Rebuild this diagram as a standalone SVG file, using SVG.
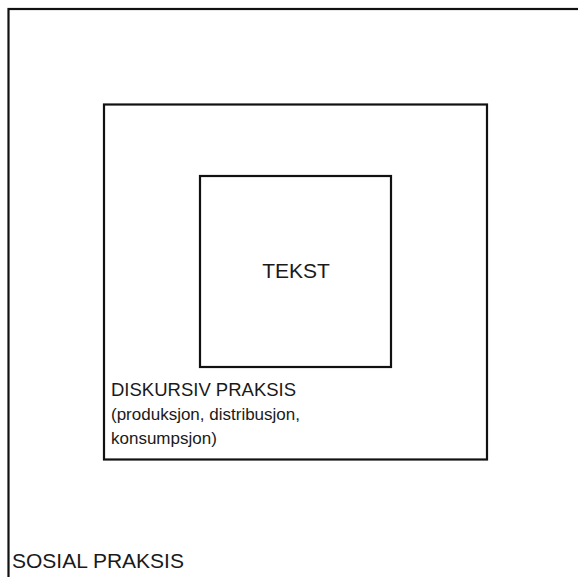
<svg xmlns="http://www.w3.org/2000/svg" width="578" height="577" viewBox="0 0 578 577">
<style>
.box{fill:none;stroke:#111;stroke-width:2.2}
.t{font-family:"Liberation Sans",Arial,sans-serif;fill:#1a1a1a}
.big{font-size:21px}
.mid{font-size:18.5px}
.sm{font-size:17px}
</style>
<rect width="578" height="577" fill="#fff"/>
<g id="sosial">
<rect class="box" x="8.5" y="9" width="575" height="580"/>
<text class="t big" x="12" y="568">SOSIAL PRAKSIS</text>
</g>
<g id="diskursiv">
<rect class="box" x="104" y="104.5" width="383" height="355"/>
<text class="t mid" x="111" y="396">DISKURSIV PRAKSIS</text>
<text class="t sm" x="111" y="420">(produksjon, distribusjon,</text>
<text class="t sm" x="111" y="444">konsumpsjon)</text>
</g>
<g id="tekst">
<rect class="box" x="200" y="176" width="191" height="191"/>
<text class="t big" x="296" y="278" text-anchor="middle">TEKST</text>
</g>
<g id="connectors"/>
</svg>
